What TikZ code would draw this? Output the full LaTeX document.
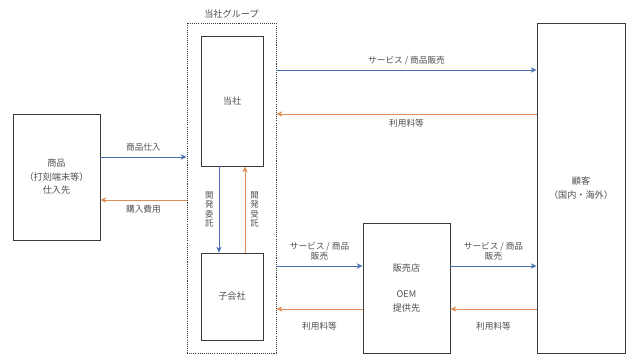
\documentclass[tikz,border=0pt]{standalone}
\usepackage{fontspec}
\setmainfont{Noto Sans CJK JP}
\usepackage{tikz}
\usetikzlibrary{arrows.meta,positioning}
\usepackage{xcolor}
\definecolor{ink}{HTML}{3A3A3A}
\definecolor{txt}{HTML}{505050}
\definecolor{flowblue}{HTML}{4A6FB0}
\definecolor{floworange}{HTML}{E08A55}

\begin{document}
\begin{tikzpicture}[x=0.03cm,y=-0.03cm,>={Stealth[length=5pt,width=4.5pt]},
 b/.style={draw=ink,line width=0.7pt,fill=white,align=center,text=txt,font=\fontsize{7.8}{11.5}\selectfont},
 grpbox/.style={draw=ink,dash pattern=on 0.9pt off 0.9pt,line width=0.8pt},
 lbl/.style={text=txt,align=center,font=\fontsize{7.4}{9}\selectfont},
 vlbl/.style={text=txt,align=center,font=\fontsize{7.2}{7.9}\selectfont},
 go/.style={->,draw=flowblue,line width=0.6pt},
 back/.style={->,draw=floworange,line width=0.6pt}]
\useasboundingbox (0,0) rectangle (635,361);
% boxes
\node[grpbox,minimum width=2.67cm,minimum height=9.9cm] (grp) at (231.5,188) {};
\node[lbl,font=\fontsize{7.8}{9}\selectfont,above=0pt of grp] (grptitle) {当社グループ};
\node[b,minimum width=2.61cm,minimum height=3.78cm] (sup) at (56.5,177) {商品\\（打刻端末等）\\仕入先};
\node[b,minimum width=1.86cm,minimum height=3.9cm] (hq) at (232,101) {当社};
\node[b,minimum width=1.86cm,minimum height=2.61cm] (sub) at (232,296.5) {子会社};
\node[b,minimum width=2.61cm,minimum height=3.9cm] (dlr) at (406.5,288) {販売店\\[10.5pt]OEM\\提供先};
\node[b,minimum width=2.64cm,minimum height=9.9cm] (cust) at (581,188) {顧客\\（国内・海外）};
% group <-> supplier
\draw[go] (sup.east |- 0,157) -- node[lbl,above=1pt] (buy) {商品仕入} (grp.west |- 0,157);
\draw[back] (grp.west |- 0,200) -- node[lbl,below=1pt] (cost) {購入費用} (sup.east |- 0,200);
% inside group
\draw[go] ([xshift=-0.39cm]hq.south) -- node[vlbl,left=1pt] (dev) {開\\発\\委\\託} ([xshift=-0.39cm]sub.north);
\draw[back] ([xshift=0.39cm]sub.north) -- node[vlbl,right=1pt] (devr) {開\\発\\受\\託} ([xshift=0.39cm]hq.south);
% group -> customer
\draw[go] (grp.east |- 0,70) -- node[lbl,above=1pt] (sale) {サービス / 商品販売} (cust.west |- 0,70);
\draw[back] (cust.west |- 0,114) -- node[lbl,below=1pt] (fee) {利用料等} (grp.east |- 0,114);
% via dealer
\draw[go] (grp.east |- 0,266) -- node[lbl,above=1pt] (sale2) {サービス / 商品\\販売} (dlr.west |- 0,266);
\draw[back] (dlr.west |- 0,309) -- node[lbl,below=8pt] (fee2) {利用料等} (grp.east |- 0,309);
\draw[go] (dlr.east |- 0,266) -- node[lbl,above=1pt] (sale3) {サービス / 商品\\販売} (cust.west |- 0,266);
\draw[back] (cust.west |- 0,309) -- node[lbl,below=8pt] (fee3) {利用料等} (dlr.east |- 0,309);
\end{tikzpicture}
\end{document}
